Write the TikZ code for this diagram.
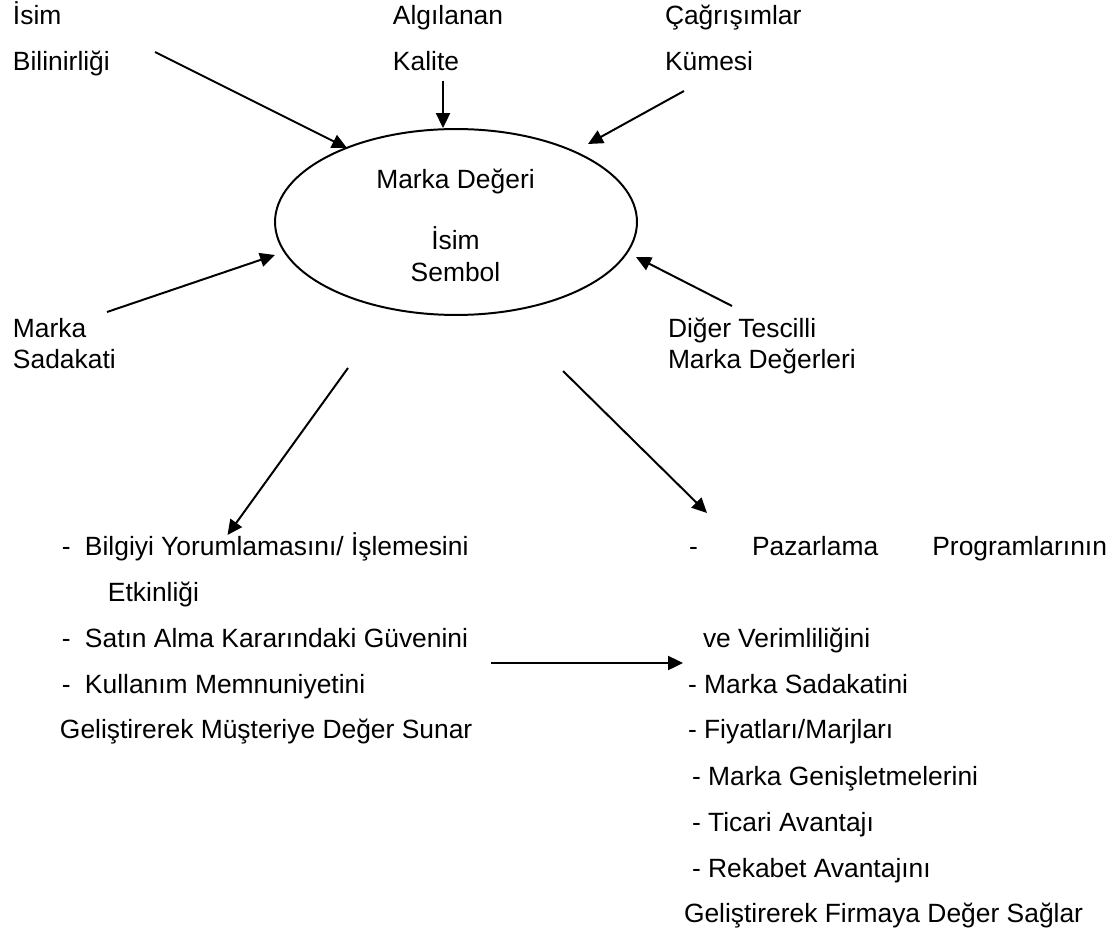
\documentclass[tikz,border=0pt]{standalone}
\usepackage{fontspec}
\setmainfont{Liberation Sans}
\usepackage{tikz}
\usetikzlibrary{arrows.meta,shapes.geometric}
\usetikzlibrary{positioning}
\tikzset{
    txt/.style={
           anchor=base west,
           inner sep=0pt,
           font=\fontsize{12pt}{14pt}\selectfont,
           },
    ctxt/.style={
           txt,
           anchor=base,
           },
    brand/.style={
           ellipse,
           draw=black, line width=0.9pt,
           minimum width=164.5pt,
           minimum height=84.5pt,
           inner sep=0pt,
           },
}

\begin{document}
\begin{tikzpicture}[x=0.4545pt,y=-0.4545pt,
        ->,>={Triangle[length=6.8pt,width=6.4pt]},line width=0.9pt]
        \useasboundingbox (0,0) rectangle (1119,933);

        % Brand equity in the middle
        \node[brand] (E_BRAND) at (456,222) {};
        \node[ctxt] (E_DEGER)  at (455.5,189) {Marka Değeri};
        \node[ctxt] (E_ISIM)   at (455.5,250) {İsim};
        \node[ctxt] (E_SEMBOL) at (455.5,281) {Sembol};

        % the five sources, top row
        \node[txt] (L_ISIM)        at (12,25)  {İsim};
        \node[txt] (L_BILINIRLIGI) at (12,71)  {Bilinirliği};
        \node[txt] (L_ALGILANAN)   at (392,25) {Algılanan};
        \node[txt] (L_KALITE)      at (392,71) {Kalite};
        \node[txt] (L_CAGRISIM)    at (664,25) {Çağrışımlar};
        \node[txt] (L_KUMESI)      at (664,71) {Kümesi};

        % the five sources, middle row
        \node[txt] (L_MARKA)    at (12,337)  {Marka};
        \node[txt] (L_SADAKATI) at (12,368)  {Sadakati};
        \node[txt] (L_DIGER)    at (667,337) {Diğer Tescilli};
        \node[txt] (L_DEGERLER) at (667,368) {Marka Değerleri};

        % value to the customer
        \node[txt] (C_DASH1)     at (61,555)  {-};
        \node[txt] (C_BILGIYI)   at (84,555)  {Bilgiyi Yorumlamasını/ İşlemesini};
        \node[txt] (C_ETKINLIGI) at (107,601) {Etkinliği};
        \node[txt] (C_DASH2)     at (61,647)  {-};
        \node[txt] (C_SATIN)     at (84,647)  {Satın Alma Kararındaki Güvenini};
        \node[txt] (C_DASH3)     at (61,693)  {-};
        \node[txt] (C_KULLANIM)  at (84,693)  {Kullanım Memnuniyetini};
        \node[txt] (C_SUNAR)     at (59,738)  {Geliştirerek Müşteriye Değer Sunar};

        % value to the firm
        \node[txt] (F_PAZARLAMA) at (688,555)
        {\makebox[190pt][l]{-\hfill Pazarlama\hfill Programlarının}};
        \node[txt] (F_VERIM)   at (702,647) {ve Verimliliğini};
        \node[txt] (F_SADAKAT) at (687,693) {- Marka Sadakatini};
        \node[txt] (F_FIYAT)   at (687,738) {- Fiyatları/Marjları};
        \node[txt] (F_GENIS)   at (691,785) {- Marka Genişletmelerini};
        \node[txt] (F_TICARI)  at (691,831) {- Ticari Avantajı};
        \node[txt] (F_REKABET) at (691,877) {- Rekabet Avantajını};
        \node[txt] (F_SAGLAR)  at (683,922) {Geliştirerek Firmaya Değer Sağlar};

        % arrow ends
        \coordinate (A_BIL_S) at (155,52);
        \coordinate (A_BIL_E) at (347,148);
        \coordinate (A_KAL_S) at (443,81);
        \coordinate (A_KAL_E) at (443,128);
        \coordinate (A_KUM_S) at (684,91);
        \coordinate (A_KUM_E) at (588,144);
        \coordinate (A_SAD_S) at (107,312);
        \coordinate (A_SAD_E) at (275,255);
        \coordinate (A_DIG_S) at (732,306);
        \coordinate (A_DIG_E) at (636,257);
        \coordinate (A_CUS_S) at (348,368);
        \coordinate (A_CUS_E) at (227.5,535);
        \coordinate (A_FIR_S) at (563,371);
        \coordinate (A_FIR_E) at (707,513);
        \coordinate (A_MID_S) at (491,663);
        \coordinate (A_MID_E) at (683,663);

        % draw the arrows
        \path
            (A_BIL_S) edge (A_BIL_E)
            (A_KAL_S) edge (A_KAL_E)
            (A_KUM_S) edge (A_KUM_E)
            (A_SAD_S) edge (A_SAD_E)
            (A_DIG_S) edge (A_DIG_E)
            (A_CUS_S) edge (A_CUS_E)
            (A_FIR_S) edge (A_FIR_E)
            (A_MID_S) edge (A_MID_E)
            ;

\end{tikzpicture}
\end{document}
